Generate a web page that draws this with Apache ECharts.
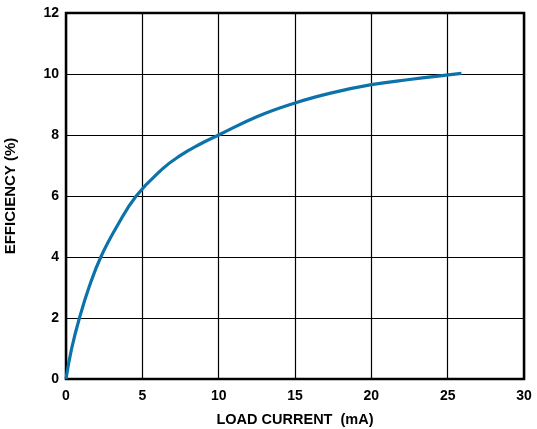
<!DOCTYPE html>
<html>
<head>
<meta charset="utf-8">
<script src="https://cdn.jsdelivr.net/npm/echarts@6/dist/echarts.min.js"></script>
<style>html,body{margin:0;padding:0;background:#fff;}#c{width:537px;height:429px;}</style>
</head>
<body>
<div id="c"></div>
<script>
var loadCurrent = [0, 0.37, 0.88, 1.53, 2.28, 3.33, 4.6, 6.3, 7.5, 8.7, 10, 12.5, 15, 17.4, 20, 22.5, 25, 25.9];
var efficiency  = [0, 1.0, 2.0, 3.04, 4.0, 5.0, 6.0, 6.88, 7.33, 7.68, 8.0, 8.6, 9.05, 9.38, 9.65, 9.82, 9.97, 10.02];
var xTicks = [0, 5, 10, 15, 20, 25, 30];
var yTicks = [0, 2, 4, 6, 8, 10, 12];
var xTitle = 'LOAD CURRENT  (mA)';
var yTitle = 'EFFICIENCY (%)';

var points = loadCurrent.map(function (x, i) { return [x, efficiency[i]]; });
var font = 'Liberation Sans, Arial, Helvetica, sans-serif';
var chart = echarts.init(document.getElementById('c'), null, {renderer: 'canvas'});
chart.setOption({
  animation: false,
  backgroundColor: '#fff',
  grid: {left: 66, right: 13, top: 13, bottom: 50, containLabel: false, outerBoundsMode: 'none',
         show: true, borderColor: '#000', borderWidth: 2.5, backgroundColor: 'transparent'},
  xAxis: {
    type: 'value', min: xTicks[0], max: xTicks[xTicks.length - 1], interval: 5,
    name: xTitle, nameLocation: 'middle', nameGap: 33,
    nameTextStyle: {color: '#000', fontWeight: 'bold', fontSize: 14.5, fontFamily: font},
    axisLine: {show: false}, axisTick: {show: false},
    axisLabel: {color: '#000', fontWeight: 'bold', fontSize: 14, fontFamily: font, margin: 10},
    splitLine: {show: true, lineStyle: {color: '#000', width: 1.2}}
  },
  yAxis: {
    type: 'value', min: yTicks[0], max: yTicks[yTicks.length - 1], interval: 2,
    name: yTitle, nameLocation: 'middle', nameGap: 48, nameRotate: 90,
    nameTextStyle: {color: '#000', fontWeight: 'bold', fontSize: 15, fontFamily: font},
    axisLine: {show: false}, axisTick: {show: false},
    axisLabel: {color: '#000', fontWeight: 'bold', fontSize: 14, fontFamily: font, margin: 7},
    splitLine: {show: true, lineStyle: {color: '#000', width: 1.2}}
  },
  series: [{
    type: 'line', data: points, smooth: 0.45, showSymbol: false,
    lineStyle: {color: '#0b73aa', width: 3.2}
  }]
});
</script>
</body>
</html>
